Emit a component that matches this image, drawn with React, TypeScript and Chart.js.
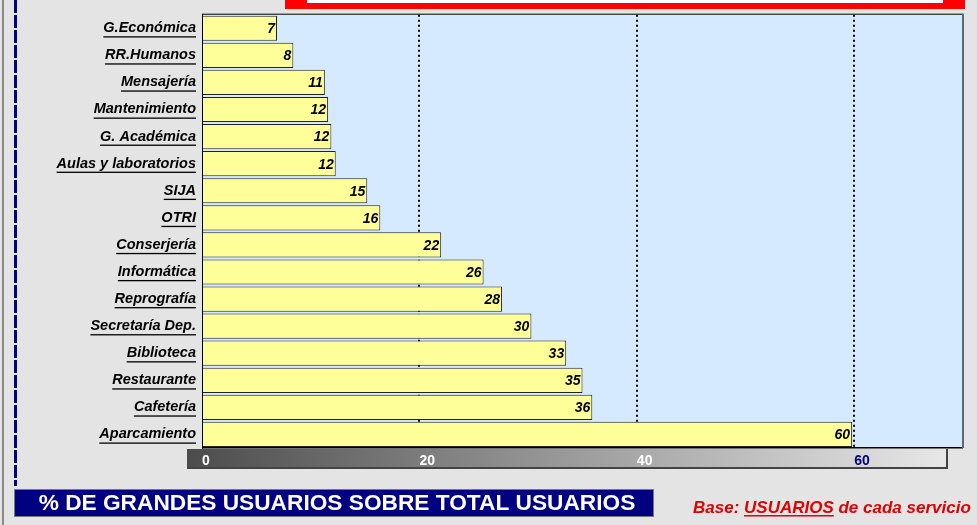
import React, { useEffect, useRef } from "react";
import { Chart, registerables } from "chart.js";

Chart.register(...registerables);

const categories = [
  "G.Económica",
  "RR.Humanos",
  "Mensajería",
  "Mantenimiento",
  "G. Académica",
  "Aulas y laboratorios",
  "SIJA",
  "OTRI",
  "Conserjería",
  "Informática",
  "Reprografía",
  "Secretaría Dep.",
  "Biblioteca",
  "Restaurante",
  "Cafetería",
  "Aparcamiento",
];
const values = [6.9, 8.4, 11.3, 11.6, 11.9, 12.3, 15.2, 16.4, 22.0, 25.9, 27.6, 30.3, 33.5, 35.0, 35.9, 59.8];
const valueLabels = ["7", "8", "11", "12", "12", "12", "15", "16", "22", "26", "28", "30", "33", "35", "36", "60"];
const xTicks = [0, 20, 40, 60];
const titleText = "% DE GRANDES USUARIOS SOBRE TOTAL USUARIOS";
const baseParts = ["Base: ", "USUARIOS", " de cada servicio"];

const FONT = "Arial, 'Liberation Sans', sans-serif";

const decorPlugin = {
  id: "decor",
  beforeDraw(chart: any) {
    const ctx = chart.ctx;
    const { chartArea } = chart;
    ctx.save();
    ctx.fillStyle = "#e4e4e4";
    ctx.fillRect(0, 0, chart.width, chart.height);
    ctx.fillStyle = "#8a8a8a";
    ctx.fillRect(2, 0, 2, chart.height);
    ctx.strokeStyle = "#000080";
    ctx.lineWidth = 3;
    ctx.setLineDash([13, 2]);
    ctx.beginPath();
    ctx.moveTo(15.5, 0);
    ctx.lineTo(15.5, 486);
    ctx.stroke();
    ctx.setLineDash([]);
    ctx.fillStyle = "#ff0000";
    ctx.fillRect(285, 0, 680, 9);
    ctx.fillStyle = "#ffffff";
    ctx.fillRect(307, 0, 636, 3);
    const g = ctx.createLinearGradient(187, 0, 948, 0);
    g.addColorStop(0, "#4c4c4c");
    g.addColorStop(1, "#e8e8e8");
    ctx.fillStyle = g;
    ctx.fillRect(187, 449, 761, 19);
    ctx.fillStyle = "#444";
    ctx.fillRect(946, 449, 2, 20);
    ctx.fillRect(187, 467, 761, 2);
    ctx.fillStyle = "#d6eaff";
    ctx.fillRect(chartArea.left, chartArea.top, chartArea.right - chartArea.left, chartArea.bottom - chartArea.top);
    ctx.fillStyle = "#000080";
    ctx.fillRect(15, 490, 638, 26);
    ctx.strokeStyle = "#777";
    ctx.lineWidth = 1;
    ctx.strokeRect(14.5, 489.5, 639, 27);
    ctx.fillStyle = "#ffffff";
    ctx.font = `bold 22.7px ${FONT}`;
    ctx.textAlign = "center";
    ctx.textBaseline = "middle";
    ctx.fillText(titleText, 337, 504);
    ctx.font = `italic bold 17px ${FONT}`;
    ctx.textAlign = "left";
    ctx.textBaseline = "alphabetic";
    ctx.fillStyle = "#dd0000";
    let x = 693;
    baseParts.forEach((p, i) => {
      ctx.fillText(p, x, 513);
      const w = ctx.measureText(p).width;
      if (i === 1) {
        ctx.fillRect(x, 515, w, 1.5);
      }
      x += w;
    });
    ctx.restore();
  },
  afterDatasetsDraw(chart: any) {
    const ctx = chart.ctx;
    const meta = chart.getDatasetMeta(0);
    ctx.save();
    ctx.font = `italic bold 14px ${FONT}`;
    ctx.fillStyle = "#000";
    ctx.textAlign = "right";
    ctx.textBaseline = "middle";
    meta.data.forEach((bar: any, i: number) => {
      ctx.fillText(valueLabels[i], bar.x - 2, bar.y + 1);
    });
    ctx.restore();
  },
  afterDraw(chart: any) {
    const ctx = chart.ctx;
    const { chartArea } = chart;
    ctx.save();
    ctx.fillStyle = "#000";
    ctx.fillRect(chartArea.left, chartArea.top - 1, chartArea.right - chartArea.left, 1);
    ctx.fillRect(chartArea.left, chartArea.bottom - 1, chartArea.right - chartArea.left, 1.5);
    ctx.fillStyle = "#5a6878";
    ctx.fillRect(chartArea.right - 1, chartArea.top - 1, 2, chartArea.bottom - chartArea.top + 1);
    const ys = chart.scales.y;
    ctx.font = `italic bold 14.5px ${FONT}`;
    ctx.fillStyle = "#000";
    categories.forEach((c, i) => {
      const y = ys.getPixelForTick(i);
      const w = ctx.measureText(c).width;
      ctx.fillRect(196 - w, y + 8, w, 1.3);
    });
    ctx.restore();
  },
};

export default function App() {
  const ref = useRef<HTMLCanvasElement>(null);
  useEffect(() => {
    document.body.style.margin = "0";
    const chart = new Chart(ref.current as HTMLCanvasElement, {
      type: "bar",
      data: {
        labels: categories,
        datasets: [
          {
            data: values,
            backgroundColor: "#ffff99",
            borderColor: "#222",
            borderWidth: 1,
            barPercentage: 0.93,
            categoryPercentage: 1,
          },
        ],
      },
      options: {
        indexAxis: "y",
        animation: false,
        responsive: true,
        maintainAspectRatio: false,
        layout: { padding: { left: 0, top: 13, right: 14, bottom: 57 } },
        plugins: { legend: { display: false }, tooltip: { enabled: false } },
        scales: {
          x: {
            type: "linear",
            min: 0,
            max: 70,
            z: 1,
            afterBuildTicks: (s: any) => {
              s.ticks = xTicks.map((v) => ({ value: v }));
            },
            afterFit: (s: any) => {
              s.height = 20;
            },
            grid: {
              drawTicks: false,
              color: (c: any) => (c.tick && c.tick.value === 0 ? "rgba(0,0,0,0)" : "#000"),
              lineWidth: 2,
            } as any,
            border: { display: false, dash: [2, 3] } as any,
            ticks: {
              align: "start",
              padding: 5,
              color: (c: any) => (c.tick && c.tick.value === 60 ? "#000080" : "#ffffff"),
              font: { family: FONT, size: 14, weight: "bold" },
            } as any,
          },
          y: {
            afterFit: (s: any) => {
              s.width = 202;
            },
            grid: { display: false, drawTicks: false },
            border: { display: true, color: "#000", width: 1 },
            ticks: {
              padding: 6,
              color: "#000",
              font: { family: FONT, size: 14.5, weight: "bold", style: "italic" },
            } as any,
          },
        },
      },
      plugins: [decorPlugin],
    } as any);
    return () => chart.destroy();
  }, []);
  return (
    <div style={{ width: 977, height: 525, position: "relative" }}>
      <canvas ref={ref} />
    </div>
  );
}
